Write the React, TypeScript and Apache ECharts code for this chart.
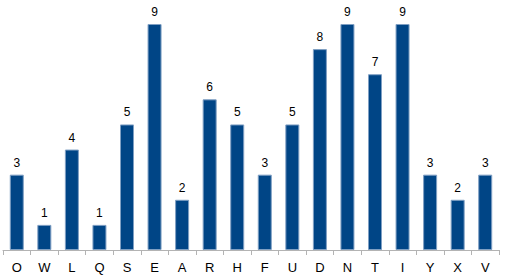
import React, { useEffect, useRef } from "react";
import * as echarts from "echarts";

const categories = ["O", "W", "L", "Q", "S", "E", "A", "R", "H", "F", "U", "D", "N", "T", "I", "Y", "X", "V"];
const values = [3, 1, 4, 1, 5, 9, 2, 6, 5, 3, 5, 8, 9, 7, 9, 3, 2, 3];

export default function App() {
  const ref = useRef<HTMLDivElement>(null);
  useEffect(() => {
    const chart = echarts.init(ref.current!, null, { renderer: "svg" });
    chart.setOption({
      animation: false,
      grid: { left: 3, right: 8, top: 24, bottom: 29, containLabel: false },
      xAxis: {
        type: "category",
        data: categories,
        axisLine: { lineStyle: { color: "#b3b3b3", width: 1 } },
        axisTick: { show: true, length: 5, lineStyle: { color: "#b3b3b3" } },
        axisLabel: { color: "#000", fontSize: 13, fontFamily: "Liberation Sans, Arial", margin: 11 },
      },
      yAxis: { type: "value", min: 0, max: 9, show: false, splitLine: { show: false } },
      series: [
        {
          type: "bar",
          data: values,
          barWidth: 14,
          itemStyle: { color: "#004586", borderColor: "#7f9fc3", borderWidth: 1 },
          label: {
            show: true,
            position: "top",
            color: "#000",
            fontSize: 12,
            fontFamily: "Liberation Sans, Arial",
            distance: 6,
          },
        },
      ],
    });
    return () => chart.dispose();
  }, []);
  return <div ref={ref} style={{ width: 507, height: 279, position: "absolute", left: 0, top: 0 }} />;
}
